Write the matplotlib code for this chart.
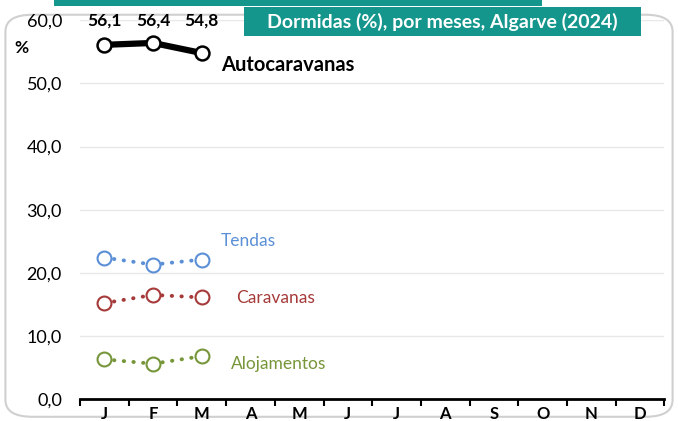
import matplotlib

matplotlib.use("Agg")
import matplotlib.pyplot as plt  # noqa: E402
from matplotlib.patches import FancyBboxPatch, Rectangle  # noqa: E402

plt.rcParams["font.family"] = ["Lato", "DejaVu Sans"]

months = ["J", "F", "M", "A", "M", "J", "J", "A", "S", "O", "N", "D"]
autocaravanas = [56.1, 56.4, 54.8]
tendas = [22.4, 21.3, 22.1]
caravanas = [15.2, 16.5, 16.1]
alojamentos = [6.3, 5.6, 6.8]

BLUE = "#5B8FD6"
RED = "#A63A3A"
GREEN = "#77963A"
TEAL = "#14968C"


def fmt(v):
    return f"{v:.1f}".replace(".", ",")


fig = plt.figure(figsize=(6.78, 4.21), dpi=100)

# rounded frame around the chart (behind the axes)
frame = FancyBboxPatch((0.008, 0.01), 0.984, 0.955, boxstyle="round,pad=0,rounding_size=0.04",
                       transform=fig.transFigure, fc="white", ec="#D0D0D0", lw=1.5, zorder=-5)
fig.patches.append(frame)
# teal strip along the top + title box
fig.patches.append(Rectangle((0.08, 0.985), 0.72, 0.02, transform=fig.transFigure,
                             fc=TEAL, ec="none", zorder=5))
fig.patches.append(Rectangle((0.36, 0.915), 0.585, 0.068, transform=fig.transFigure,
                             fc=TEAL, ec="none", zorder=5))
fig.text(0.652, 0.949, "Dormidas (%), por meses, Algarve (2024)", color="white", fontsize=14,
         fontweight="bold", ha="center", va="center", zorder=6)

ax = fig.add_axes([0.118, 0.052, 0.862, 0.9])
x = list(range(len(months)))
n = len(autocaravanas)

ax.plot(x[:n], autocaravanas, color="black", lw=4.5, marker="o", ms=10,
        mfc="white", mec="black", mew=1.8, zorder=5)
for xi, v in zip(x[:n], autocaravanas):
    ax.text(xi, 60, fmt(v), ha="center", va="center", fontsize=12.5, fontweight="bold")

for vals, col in [(tendas, BLUE), (caravanas, RED), (alojamentos, GREEN)]:
    ax.plot(x[:n], vals, color=col, lw=2.8, ls=(0, (0.1, 2.4)), dash_capstyle="round",
            marker="o", ms=10, mfc="white", mec=col, mew=1.5, zorder=4)

ax.text(2.4, 52.9, "Autocaravanas", fontsize=14.5, fontweight="bold", ha="left", va="center")
ax.text(2.4, 25.0, "Tendas", fontsize=12.5, color=BLUE, ha="left", va="center")
ax.text(2.7, 16.0, "Caravanas", fontsize=12.5, color=RED, ha="left", va="center")
ax.text(2.6, 5.5, "Alojamentos", fontsize=12.5, color=GREEN, ha="left", va="center")
ax.text(-1.7, 55.6, "%", fontsize=12.5, fontweight="bold", ha="center", va="center")

ax.set_xlim(-0.5, 11.5)
ax.set_ylim(0, 60)
ax.set_yticks(range(0, 61, 10))
ax.set_yticklabels([fmt(v) for v in range(0, 61, 10)], fontsize=13)
ax.set_xticks(x)
ax.set_xticklabels(months, fontsize=12, fontweight="bold")
ax.set_xticks([i - 0.5 for i in range(13)], minor=True)
ax.tick_params(axis="x", which="major", length=0, pad=5)
ax.tick_params(axis="x", which="minor", length=5, width=1.5, direction="out")
ax.tick_params(axis="y", length=0, pad=13)
ax.grid(axis="y", color="#E8E8E8", lw=1)
ax.set_axisbelow(True)
for s in ["top", "right", "left"]:
    ax.spines[s].set_visible(False)
ax.spines["bottom"].set_linewidth(2)
ax.patch.set_alpha(0)

fig.savefig("out.png", dpi=100)
